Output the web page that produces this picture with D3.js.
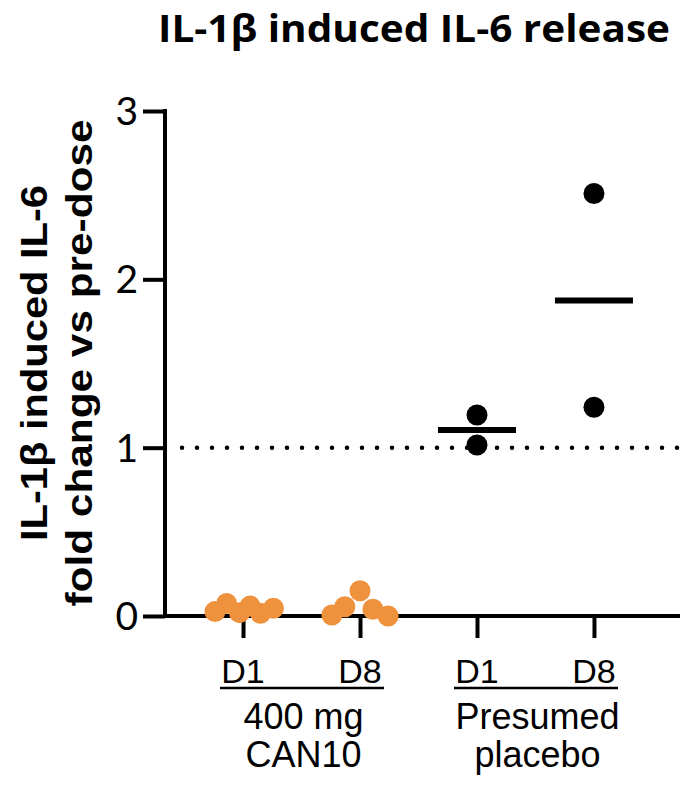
<!DOCTYPE html>
<html>
<head>
<meta charset="utf-8">
<script src="https://cdn.jsdelivr.net/npm/d3@7"></script>
<style>
  html, body { margin: 0; padding: 0; background: #fff; }
  svg { display: block; }
</style>
</head>
<body>
<svg id="chart" width="680" height="785"></svg>
<script>
// ---------- data ----------
const categories = ["CAN10 D1", "CAN10 D8", "Placebo D1", "Placebo D8"];
const tickLabels = ["D1", "D8", "D1", "D8"];
const groupLabels = [["400 mg", "CAN10"], ["Presumed", "placebo"]];
const yTicks = [0, 1, 2, 3];

const can10D1 = [0.026, 0.075, 0.02, 0.059, 0.016, 0.046];
const can10D1Jitter = [-0.24, -0.14, -0.03, 0.06, 0.15, 0.26];
const can10D8 = [0.006, 0.055, 0.15, 0.04, 0.0];
const can10D8Jitter = [-0.24, -0.13, 0.0, 0.11, 0.24];
const placeboD1 = [1.194, 1.016];
const placeboD8 = [2.51, 1.24];
const placeboMeans = [1.105, 1.875];
const reference = 1;

const orange = "#EF923D";

// ---------- layout ----------
const svg = d3.select("#chart");
const x = d3.scalePoint().domain(categories).range([165, 672]).padding(0.667);
const y = d3.scaleLinear().domain([0, 3]).range([616, 111]);
const step = x.step();

// title
svg.append("text")
  .attr("x", 158).attr("y", 42)
  .attr("font-family", "'Open Sans', sans-serif")
  .attr("font-weight", 700)
  .attr("font-size", 38)
  .attr("textLength", 512).attr("lengthAdjust", "spacingAndGlyphs")
  .attr("fill", "#000")
  .text("IL-1β induced IL-6 release");

// y label
const yl = svg.append("text")
  .attr("transform", "translate(0,363) rotate(-90)")
  .attr("text-anchor", "middle")
  .attr("font-family", "'Liberation Sans', Arial, sans-serif")
  .attr("font-weight", 700)
  .attr("font-size", 37)
  .attr("fill", "#000");
yl.append("tspan").attr("x", 0).attr("y", 47)
  .attr("textLength", 356).attr("lengthAdjust", "spacingAndGlyphs")
  .text("IL-1β induced IL-6");
yl.append("tspan").attr("x", 0).attr("y", 92)
  .attr("textLength", 487).attr("lengthAdjust", "spacingAndGlyphs")
  .text("fold change vs pre-dose");

// reference dotted line
svg.append("line")
  .attr("x1", 182).attr("x2", 690)
  .attr("y1", y(reference)).attr("y2", y(reference))
  .attr("stroke", "#000")
  .attr("stroke-width", 4.5)
  .attr("stroke-linecap", "round")
  .attr("stroke-dasharray", "0 15");

// y axis
const yAxis = svg.append("g")
  .attr("transform", "translate(165,0)")
  .call(d3.axisLeft(y).tickValues(yTicks).tickSize(22).tickPadding(5).tickFormat(d3.format("d")));
yAxis.select(".domain").attr("stroke-width", 4).attr("d", `M0,${y(3)-2}V${y(0)+2}`);
yAxis.selectAll(".tick line").attr("stroke-width", 4);
yAxis.selectAll(".tick text")
  .attr("font-family", "Lato, 'Open Sans', sans-serif")
  .attr("font-size", 39)
  .attr("dy", "0.35em")
  .attr("fill", "#000");

// x axis
const xAxis = svg.append("g")
  .attr("transform", `translate(0,${y(0)})`)
  .call(d3.axisBottom(x).tickSize(22).tickFormat(() => ""));
xAxis.select(".domain").remove();
xAxis.selectAll(".tick line").attr("stroke-width", 4);
svg.append("line")
  .attr("x1", 163).attr("x2", 690)
  .attr("y1", y(0)).attr("y2", y(0))
  .attr("stroke", "#000").attr("stroke-width", 4);

// category labels
svg.append("g").selectAll("text")
  .data(categories)
  .join("text")
  .attr("x", d => x(d))
  .attr("y", 683)
  .attr("text-anchor", "middle")
  .attr("font-family", "'Liberation Sans', Arial, sans-serif")
  .attr("font-size", 34)
  .attr("fill", "#000")
  .text((d, i) => tickLabels[i]);

// underlines & group labels
const groups = [[categories[0], categories[1]], [categories[2], categories[3]]];
svg.append("g").selectAll("line")
  .data(groups)
  .join("line")
  .attr("x1", d => x(d[0]) - 23)
  .attr("x2", d => x(d[1]) + 24)
  .attr("y1", 688).attr("y2", 688)
  .attr("stroke", "#000").attr("stroke-width", 2.5);

groups.forEach((g, gi) => {
  const cx = (x(g[0]) + x(g[1])) / 2;
  const t = svg.append("text")
    .attr("text-anchor", "middle")
    .attr("font-family", "'Liberation Sans', Arial, sans-serif")
    .attr("font-size", 36)
    .attr("fill", "#000");
  groupLabels[gi].forEach((s, li) => {
    t.append("tspan").attr("x", cx + 2).attr("y", 729 + li * 38).text(s);
  });
});

// mean lines (placebo)
svg.append("g").selectAll("line")
  .data(placeboMeans)
  .join("line")
  .attr("x1", (d, i) => x(categories[2 + i]) - 39)
  .attr("x2", (d, i) => x(categories[2 + i]) + 39)
  .attr("y1", d => y(d)).attr("y2", d => y(d))
  .attr("stroke", "#000").attr("stroke-width", 6);

// placebo points
const blackPts = [
  ...placeboD1.map(v => ({ c: categories[2], v })),
  ...placeboD8.map(v => ({ c: categories[3], v }))
];
svg.append("g").selectAll("circle")
  .data(blackPts)
  .join("circle")
  .attr("cx", d => x(d.c))
  .attr("cy", d => y(d.v))
  .attr("r", 10.5)
  .attr("fill", "#000");

// CAN10 points
const orangePts = [
  ...can10D1.map((v, i) => ({ c: categories[0], v, j: can10D1Jitter[i] })),
  ...can10D8.map((v, i) => ({ c: categories[1], v, j: can10D8Jitter[i] }))
];
svg.append("g").selectAll("circle")
  .data(orangePts)
  .join("circle")
  .attr("cx", d => x(d.c) + d.j * step)
  .attr("cy", d => y(d.v))
  .attr("r", 10.5)
  .attr("fill", orange);
</script>
</body>
</html>
